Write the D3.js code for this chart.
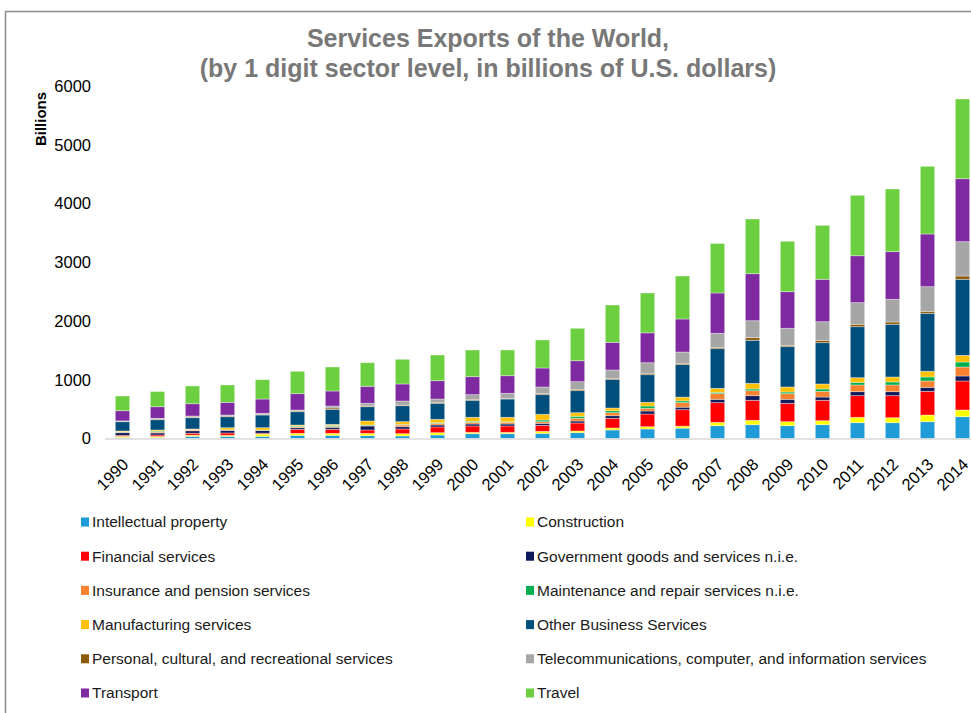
<!DOCTYPE html>
<html>
<head>
<meta charset="utf-8">
<script src="https://cdn.jsdelivr.net/npm/d3@7"></script>
<style>
  html, body { margin: 0; padding: 0; background: #ffffff; }
  svg { display: block; font-family: "Liberation Sans", Arial, sans-serif; }
</style>
</head>
<body>
<svg id="chart" width="971" height="713"></svg>
<script>
// Years on the category axis
const years = ["1990","1991","1992","1993","1994","1995","1996","1997","1998","1999",
  "2000","2001","2002","2003","2004","2005","2006","2007","2008","2009",
  "2010","2011","2012","2013","2014"];

// Sector names, bottom of the stack first
const sectors = [
  "Intellectual property",
  "Construction",
  "Financial services",
  "Government goods and services n.i.e.",
  "Insurance and pension services",
  "Maintenance and repair services n.i.e.",
  "Manufacturing services",
  "Other Business Services",
  "Personal, cultural, and recreational services",
  "Telecommunications, computer, and information services",
  "Transport",
  "Travel"
];

const sectorColors = ["#1f9bd7","#ffff00","#ff0000","#0e1a5a","#f7812e","#00b050",
  "#ffc000","#004e7c","#8b5b0a","#a6a6a6","#7f2aa0","#6ccf40"];

// Exports by sector, billions of U.S. dollars, 1990-2014
const intellectualProperty = [15,15,37,37,37,54,54,48,43,60,82,82,88,99,145,162,176,218,235,218,235,269,269,286,371];
const construction         = [22,20,20,18,38,34,34,40,39,39,23,23,34,29,34,39,34,57,75,68,68,92,85,114,114];
const financial            = [17,25,33,39,15,68,68,57,80,97,108,108,102,136,165,216,280,335,340,313,347,368,375,403,494];
const government           = [45,35,42,46,45,28,34,68,39,34,34,34,34,34,44,51,43,57,79,68,56,68,68,68,85];
const insurance            = [9,15,13,5,5,16,15,9,29,28,29,29,28,46,51,46,77,96,85,96,97,114,114,108,153];
const maintenance          = [6,15,5,5,5,12,17,8,11,11,17,10,29,34,34,39,30,23,29,28,40,45,51,68,85];
const manufacturing        = [14,20,12,34,39,18,19,68,45,57,68,75,97,61,46,63,64,68,96,86,85,79,85,97,114];
const otherBusiness        = [158,175,192,187,216,226,256,243,272,273,289,311,334,375,489,470,556,675,732,686,703,868,897,987,1294];
const personal             = [6,10,11,12,12,14,23,14,12,17,17,12,17,23,17,24,20,23,45,23,40,41,39,34,56];
const telecom              = [8,14,18,17,17,15,33,44,68,56,79,85,114,130,141,180,192,238,289,290,317,368,386,419,584];
const transport            = [173,197,209,216,243,278,256,290,290,312,306,300,323,357,471,509,562,687,800,623,722,799,811,897,1072];
const travel               = [250,259,302,295,329,381,408,401,420,437,454,437,477,552,635,678,732,842,931,858,918,1028,1067,1152,1357];

const yTicks = [0,1000,2000,3000,4000,5000,6000];

const seriesValues = [intellectualProperty, construction, financial, government, insurance,
  maintenance, manufacturing, otherBusiness, personal, telecom, transport, travel];

// Build one row per year for d3.stack
const rows = years.map((yr, i) => {
  const r = { year: yr };
  sectors.forEach((s, k) => { r[s] = seriesValues[k][i]; });
  return r;
});

const svg = d3.select("#chart");

// Outer frame
svg.append("path")
  .attr("d", "M5.5,713 L5.5,11.5 L971,11.5")
  .attr("fill", "none")
  .attr("stroke", "#8c8c8c")
  .attr("stroke-width", 1.5);

// Title
const title = svg.append("text")
  .attr("text-anchor", "middle")
  .attr("fill", "#787878")
  .attr("font-weight", "bold")
  .attr("font-size", 25);
title.append("tspan").attr("x", 488).attr("y", 47).text("Services Exports of the World,");
title.append("tspan").attr("x", 488).attr("y", 77).text("(by 1 digit sector level, in billions of U.S. dollars)");

// Scales
const x = d3.scaleBand()
  .domain(years)
  .range([105, 980])
  .paddingInner(0.59)
  .paddingOuter(0.295);

const y = d3.scaleLinear()
  .domain([0, 6000])
  .range([438.5, 86]);

const color = d3.scaleOrdinal().domain(sectors).range(sectorColors);

// Y axis (labels only)
const yAxis = svg.append("g")
  .attr("transform", "translate(91,0)")
  .call(d3.axisLeft(y).tickValues(yTicks).tickSize(0).tickPadding(0).tickFormat(d3.format("d")));
yAxis.select(".domain").remove();
yAxis.selectAll("text")
  .attr("font-family", "'Liberation Sans', Arial, sans-serif")
  .attr("font-size", 16.5)
  .attr("fill", "#000");

// Axis title
svg.append("text")
  .attr("transform", "translate(46,119) rotate(-90)")
  .attr("text-anchor", "middle")
  .attr("font-weight", "bold")
  .attr("font-size", 15)
  .attr("fill", "#000")
  .text("Billions");

// Stacked bars
const stacked = d3.stack().keys(sectors)(rows);

svg.append("g")
  .selectAll("g")
  .data(stacked)
  .join("g")
    .attr("fill", d => color(d.key))
  .selectAll("rect")
  .data(d => d)
  .join("rect")
    .attr("x", d => x(d.data.year))
    .attr("width", x.bandwidth())
    .attr("y", d => y(d[1]))
    .attr("height", d => y(d[0]) - y(d[1]))
    .attr("stroke", "rgba(255,255,255,0.45)")
    .attr("stroke-width", 0.8);

// Baseline / category axis
const xAxis = svg.append("g")
  .attr("transform", `translate(0,${y(0)})`)
  .call(d3.axisBottom(x).tickSize(0).tickPadding(0));
xAxis.select(".domain")
  .attr("d", `M105,0.5H971`)
  .attr("stroke", "#d9d9d9")
  .attr("stroke-width", 1.5);
xAxis.selectAll(".tick text")
  .attr("font-family", "'Liberation Sans', Arial, sans-serif")
  .attr("font-size", 16.5)
  .attr("fill", "#000")
  .attr("text-anchor", "end")
  .attr("dy", null)
  .attr("y", null)
  .attr("transform", "translate(7,27) rotate(-45)");

// Legend, two columns
const legend = svg.append("g")
  .attr("font-family", "'Liberation Sans', Arial, sans-serif")
  .attr("font-size", 15.5)
  .attr("fill", "#1a1a1a");

const legItems = legend.selectAll("g")
  .data(sectors)
  .join("g")
    .attr("transform", (d, i) => {
      const col = i % 2, row = Math.floor(i / 2);
      return `translate(${col === 0 ? 81 : 526},${522 + row * 34.2})`;
    });

legItems.append("rect")
  .attr("x", 0).attr("y", -4.5)
  .attr("width", 8).attr("height", 9)
  .attr("fill", d => color(d));

legItems.append("text")
  .attr("x", 11)
  .attr("y", 0)
  .attr("dy", "0.35em")
  .text(d => d);
</script>
</body>
</html>
